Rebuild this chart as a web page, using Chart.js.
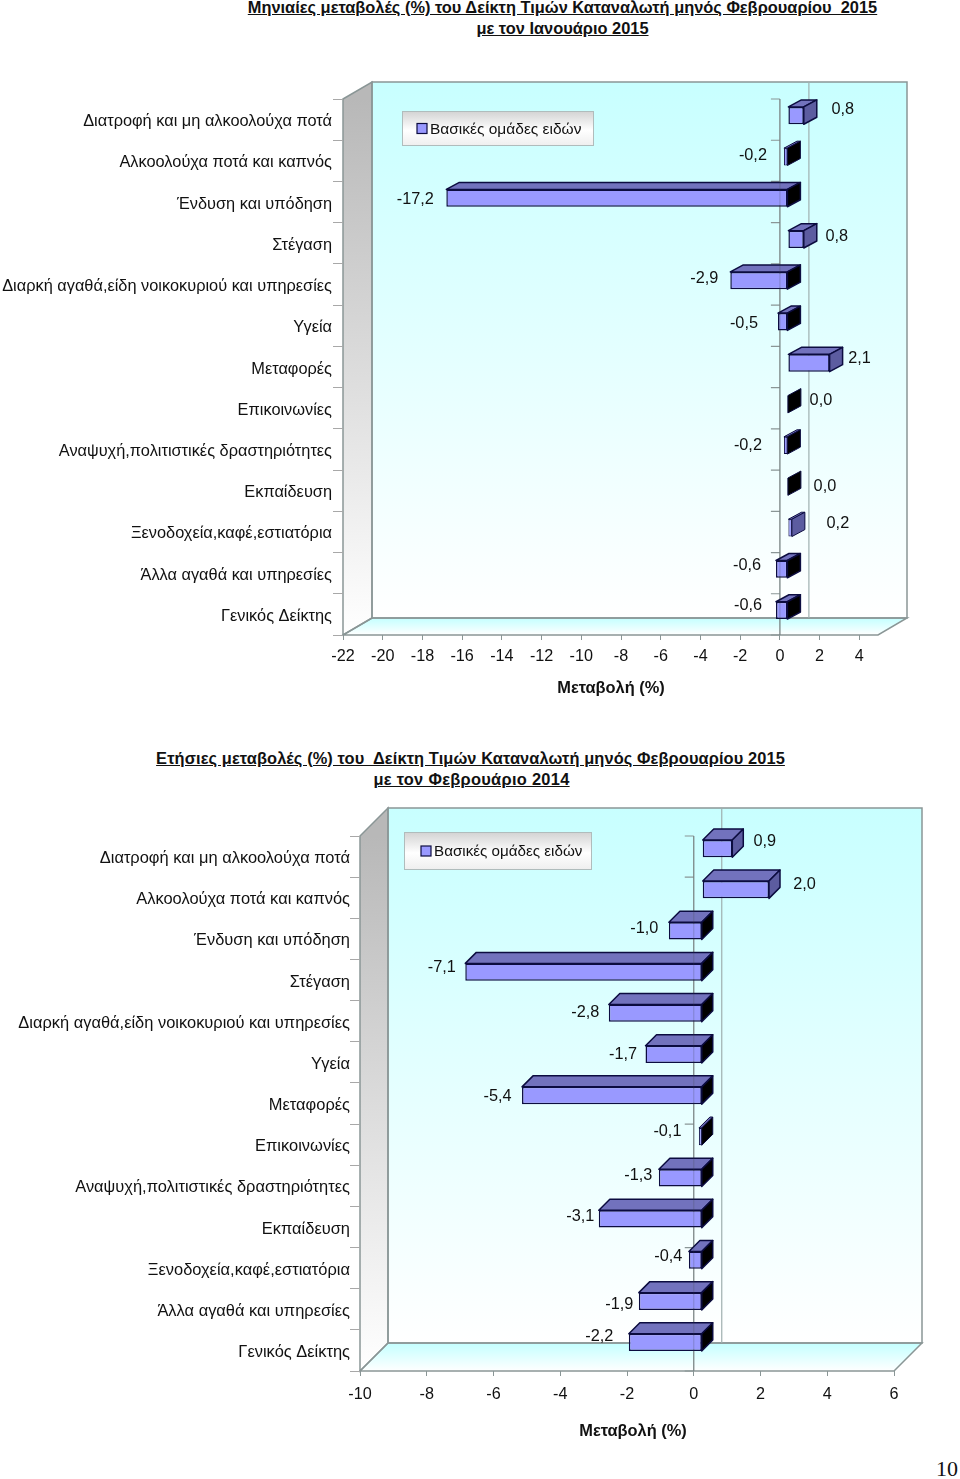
<!DOCTYPE html>
<html lang="el">
<head>
<meta charset="utf-8">
<title>Μεταβολές Δείκτη Τιμών Καταναλωτή</title>
<script src="https://cdn.jsdelivr.net/npm/chart.js@4/dist/chart.umd.min.js"></script>
<style>
  html, body { margin: 0; padding: 0; background: #fff; }
  body { position: relative; width: 960px; height: 1479px; overflow: hidden; }
  canvas { position: absolute; left: 0; }
  .title {
    position: absolute;
    font: bold 16.4px "Liberation Sans", Arial, sans-serif;
    color: #111;
    text-decoration: underline;
    white-space: pre;
    transform: translateX(-50%);
    line-height: 20px;
  }
  #pageNo { position: absolute; left: 936px; top: 1456px; font: 22px "Liberation Serif", serif; color: #111; }
</style>
</head>
<body>
<div class="title" style="left:562.5px;top:-3px">Μηνιαίες μεταβολές (%) του Δείκτη Τιμών Καταναλωτή μηνός Φεβρουαρίου  2015</div>
<div class="title" style="left:562.5px;top:18px">με τον Ιανουάριο 2015</div>
<div class="title" style="left:470.5px;top:748px;letter-spacing:.1px">Ετήσιες μεταβολές (%) του  Δείκτη Τιμών Καταναλωτή μηνός Φεβρουαρίου 2015</div>
<div class="title" style="left:471.5px;top:769px;letter-spacing:.3px">με τον Φεβρουάριο 2014</div>
<canvas id="monthlyChart" width="960" height="700" style="top:40px"></canvas>
<canvas id="yearlyChart" width="960" height="660" style="top:790px"></canvas>
<div id="pageNo">10</div>
<script>
const categories = [
    'Διατροφή και μη αλκοολούχα ποτά',
    'Αλκοολούχα ποτά και καπνός',
    'Ένδυση και υπόδηση',
    'Στέγαση',
    'Διαρκή αγαθά,είδη νοικοκυριού και υπηρεσίες',
    'Υγεία',
    'Μεταφορές',
    'Επικοινωνίες',
    'Αναψυχή,πολιτιστικές δραστηριότητες',
    'Εκπαίδευση',
    'Ξενοδοχεία,καφέ,εστιατόρια',
    'Άλλα αγαθά και υπηρεσίες',
    'Γενικός Δείκτης'
];
const monthlyValues = [0.8, -0.2, -17.2, 0.8, -2.9, -0.5, 2.1, 0.0, -0.2, 0.0, 0.2, -0.6, -0.6];
const yearlyValues = [0.9, 2.0, -1.0, -7.1, -2.8, -1.7, -5.4, -0.1, -1.3, -3.1, -0.4, -1.9, -2.2];
const seriesName = 'Βασικές ομάδες ειδών';
const axisTitle = 'Μεταβολή (%)';

// hand-moved data labels in the original: offset from the bar end
const monthlyNudge = [[47,-10],[-23,-5],[-23,-3],[41,-7],[-18,-6],[-26,-2],[38,-8],[41,-8],[-28,-4],[45,-4],[54,-8],[-21,-8],[-20,-9]];
const yearlyNudge = [[41,-15],[44,-13],[-16,-10],[-15,-13],[-15,-9],[-14,-8],[-16,-7],[-23,-13],[-12,-10],[-10,-10],[-12,-12],[-11,-5],[-21,-14]];

const FONT = '"Liberation Sans", Arial, sans-serif';
const BAR_FRONT = '#9999ff';
const BAR_TOP = '#7272bd';
const BAR_SIDE = '#5c5ca0';
const BAR_EDGE = '#0c0c40';
const WALL_EDGE = '#8a9696';

function poly(ctx, pts) {
    ctx.beginPath();
    pts.forEach((p, i) => i ? ctx.lineTo(p[0], p[1]) : ctx.moveTo(p[0], p[1]));
    ctx.closePath();
}

function vGrad(ctx, y0, y1, stops) {
    const g = ctx.createLinearGradient(0, y0, 0, y1);
    stops.forEach(s => g.addColorStop(s[0], s[1]));
    return g;
}

// 3D box look: walls, floor, bar sides, labels, legend
const box3d = {
    id: 'box3d',
    beforeDraw(chart, args, o) {
        const { ctx, chartArea: a, scales: { x } } = chart;
        const [dx, dy] = o.wall;
        ctx.save();
        // back wall
        ctx.fillStyle = vGrad(ctx, a.top + dy, a.bottom + dy, [[0, '#c8ffff'], [1, '#ffffff']]);
        ctx.fillRect(a.left + dx, a.top + dy, a.right - a.left, a.bottom - a.top);
        // side wall
        poly(ctx, [[a.left, a.top], [a.left + dx, a.top + dy], [a.left + dx, a.bottom + dy], [a.left, a.bottom]]);
        ctx.fillStyle = vGrad(ctx, a.top, a.bottom, [[0, '#b8b8b8'], [1, '#ffffff']]);
        ctx.fill();
        // floor
        poly(ctx, [[a.left, a.bottom], [a.right, a.bottom], [a.right + dx, a.bottom + dy], [a.left + dx, a.bottom + dy]]);
        ctx.fillStyle = vGrad(ctx, a.bottom + dy, a.bottom, [[0, '#c4ffff'], [1, '#ffffff']]);
        ctx.fill();
        // outlines
        ctx.strokeStyle = WALL_EDGE;
        ctx.lineWidth = 1.5;
        ctx.strokeRect(a.left + dx, a.top + dy, a.right - a.left, a.bottom - a.top);
        poly(ctx, [[a.left, a.top], [a.left + dx, a.top + dy], [a.left + dx, a.bottom + dy], [a.left, a.bottom]]);
        ctx.stroke();
        poly(ctx, [[a.left, a.bottom], [a.right, a.bottom], [a.right + dx, a.bottom + dy], [a.left + dx, a.bottom + dy]]);
        ctx.stroke();
        // zero line on the back wall
        const zero = x.getPixelForValue(0);
        ctx.strokeStyle = '#9fb0b0';
        ctx.lineWidth = 1.2;
        ctx.beginPath();
        ctx.moveTo(zero + dx, a.top + dy);
        ctx.lineTo(zero + dx, a.bottom + dy);
        ctx.stroke();
        ctx.restore();
    },
    beforeDatasetsDraw(chart, args, o) {
        const { ctx, chartArea: a, scales: { x, y } } = chart;
        const zero = x.getPixelForValue(0);
        const band = (a.bottom - a.top) / y.ticks.length;
        // category axis crossing at zero, with its ticks
        ctx.save();
        ctx.strokeStyle = WALL_EDGE;
        ctx.lineWidth = 1.2;
        ctx.beginPath();
        ctx.moveTo(zero, a.top);
        ctx.lineTo(zero, a.bottom);
        y.ticks.forEach((t, i) => {
            const yy = y.getPixelForTick(i) - band / 2;
            ctx.moveTo(zero - 9, yy);
            ctx.lineTo(zero, yy);
        });
        ctx.moveTo(zero - 9, a.bottom);
        ctx.lineTo(zero, a.bottom);
        ctx.stroke();
        ctx.restore();

        // bars get pushed into the box
        ctx.save();
        ctx.translate(o.shift[0], o.shift[1]);
        const [dx, dy] = o.depth;
        chart.getDatasetMeta(0).data.forEach((bar, i) => {
            const val = chart.data.datasets[0].data[i];
            const left = Math.min(bar.x, bar.base);
            const right = Math.max(bar.x, bar.base);
            const top = bar.y - bar.height / 2;
            const bottom = bar.y + bar.height / 2;
            ctx.strokeStyle = BAR_EDGE;
            ctx.lineWidth = Math.abs(val) < 0.3 ? 1 : 1.5;
            ctx.lineJoin = 'round';
            if (val !== 0) {
                poly(ctx, [[left, top], [right, top], [right + dx, top + dy], [left + dx, top + dy]]);
                ctx.fillStyle = BAR_TOP;
                ctx.fill();
                ctx.stroke();
            }
            poly(ctx, [[right, top], [right + dx, top + dy], [right + dx, bottom + dy], [right, bottom]]);
            ctx.fillStyle = val > 0 ? BAR_SIDE : '#000';
            ctx.fill();
            ctx.stroke();
        });
    },
    afterDatasetsDraw(chart, args, o) {
        const { ctx, chartArea: a, scales: { x } } = chart;
        ctx.restore();
        // the axis shows faintly through the bars in the original
        const zero = x.getPixelForValue(0);
        ctx.save();
        ctx.strokeStyle = 'rgba(60,70,70,0.22)';
        ctx.lineWidth = 1.2;
        ctx.beginPath();
        ctx.moveTo(zero, a.top);
        ctx.lineTo(zero, a.bottom);
        ctx.stroke();
        ctx.restore();
    },
    afterDraw(chart, args, o) {
        const { ctx, scales: { x } } = chart;
        const values = chart.data.datasets[0].data;
        ctx.save();
        // data labels
        ctx.font = '16.3px ' + FONT;
        ctx.fillStyle = '#111';
        ctx.textAlign = 'center';
        ctx.textBaseline = 'middle';
        chart.getDatasetMeta(0).data.forEach((bar, i) => {
            const n = o.nudge[i];
            ctx.fillText(values[i].toFixed(1).replace('.', ','), bar.x + n[0], bar.y + n[1]);
        });
        // axis title
        ctx.font = 'bold 16.4px ' + FONT;
        ctx.fillText(axisTitle, o.titlePos[0], o.titlePos[1]);
        // legend box
        const l = o.legend;
        ctx.fillStyle = vGrad(ctx, l.y, l.y + l.h, [[0, '#d2d2d2'], [0.55, '#ffffff'], [1, '#eeeeee']]);
        ctx.fillRect(l.x, l.y, l.w, l.h);
        ctx.strokeStyle = '#b0bcbc';
        ctx.lineWidth = 1;
        ctx.strokeRect(l.x + 0.5, l.y + 0.5, l.w - 1, l.h - 1);
        const cy = l.y + l.h / 2;
        ctx.fillStyle = BAR_FRONT;
        ctx.fillRect(l.sx, cy - 5, 10, 10);
        ctx.strokeStyle = BAR_EDGE;
        ctx.lineWidth = 1.2;
        ctx.strokeRect(l.sx, cy - 5, 10, 10);
        ctx.fillStyle = '#111';
        ctx.font = l.size + 'px ' + FONT;
        ctx.textAlign = 'left';
        ctx.fillText(seriesName, l.sx + 13, cy + 1);
        ctx.restore();
    }
};

function renderBox(id, values, opt) {
    const canvasEl = document.getElementById(id);
    return new Chart(canvasEl.getContext('2d'), {
        type: 'bar',
        plugins: [box3d],
        data: {
            labels: categories,
            datasets: [{
                label: seriesName,
                data: values,
                backgroundColor: BAR_FRONT,
                borderColor: BAR_EDGE,
                borderWidth: c => Math.abs(c.raw) < 0.3 ? 1 : 1.5,
                borderSkipped: false,
                categoryPercentage: 1,
                barPercentage: opt.barPct,
                clip: false
            }]
        },
        options: {
            indexAxis: 'y',
            responsive: false,
            animation: false,
            devicePixelRatio: 1,
            layout: { padding: { top: opt.top, right: 960 - opt.right, left: 0, bottom: 0 } },
            scales: {
                x: {
                    type: 'linear',
                    min: opt.min,
                    max: opt.max,
                    afterFit: s => { s.height = opt.canvasH - opt.bottom; },
                    border: { display: false },
                    grid: { drawOnChartArea: false, tickLength: 5, color: '#8a9696' },
                    ticks: {
                        stepSize: 2,
                        includeBounds: false,
                        autoSkip: false,
                        maxRotation: 0,
                        padding: opt.tickPad,
                        color: '#111',
                        font: { family: FONT, size: 16.2 },
                        callback: v => String(v)
                    }
                },
                y: {
                    afterFit: s => { s.width = opt.left; },
                    border: { display: false },
                    grid: { drawOnChartArea: false, tickLength: 10, color: '#a8a8a8', offset: true },
                    ticks: {
                        autoSkip: false,
                        padding: opt.catPad,
                        labelOffset: 2,
                        color: '#111',
                        font: { family: FONT, size: opt.catSize }
                    }
                }
            },
            plugins: {
                legend: { display: false },
                tooltip: { enabled: false },
                box3d: opt.box
            }
        }
    });
}

renderBox('monthlyChart', monthlyValues, {
    left: 343, right: 878, top: 59, bottom: 595, canvasH: 700,
    min: -22, max: 4.94, barPct: 0.42, tickPad: 7, catPad: 1, catSize: 16.35,
    box: {
        wall: [29, -17], shift: [8, -4], depth: [13, -7], nudge: monthlyNudge,
        titlePos: [611, 648],
        legend: { x: 402, y: 71, w: 192, h: 35, sx: 417, size: 15.5 }
    }
});

renderBox('yearlyChart', yearlyValues, {
    left: 360, right: 894, top: 46, bottom: 581, canvasH: 660,
    min: -10, max: 6, barPct: 0.42, tickPad: 9, catPad: 0, catSize: 16.45,
    box: {
        wall: [28, -28], shift: [8.5, -8], depth: [11, -11], nudge: yearlyNudge,
        titlePos: [633, 641],
        legend: { x: 404, y: 42, w: 188, h: 38, sx: 421, size: 15.2 }
    }
});
</script>
</body>
</html>
